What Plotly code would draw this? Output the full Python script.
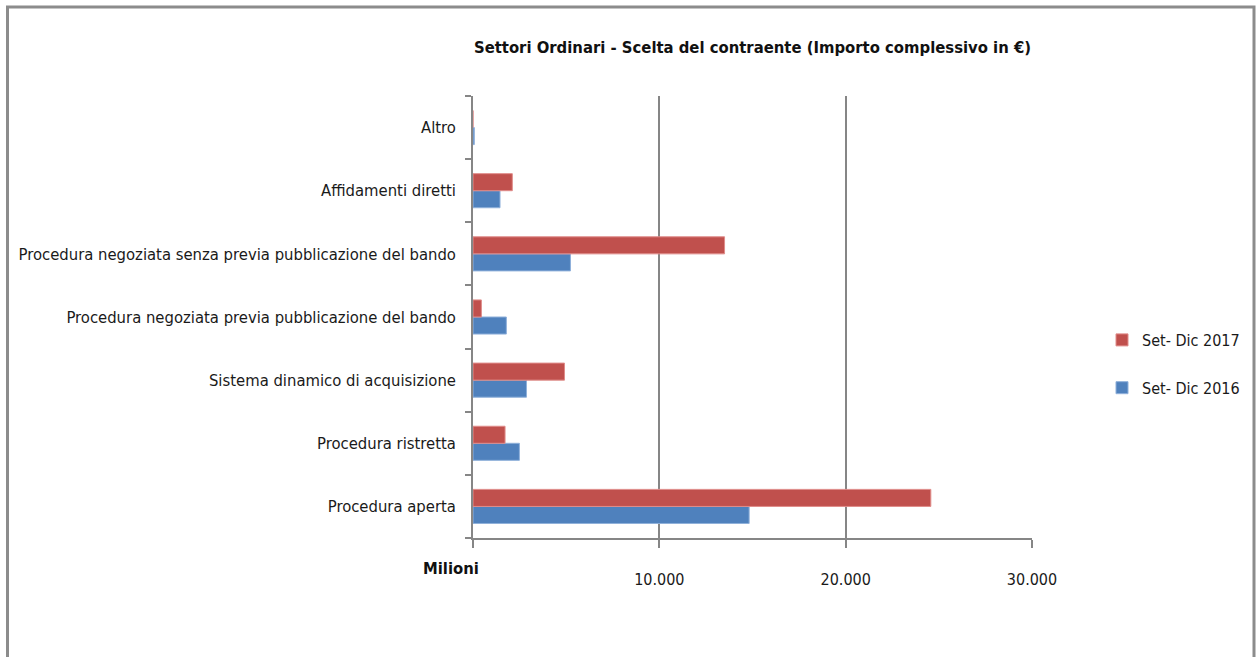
import plotly.graph_objects as go

categories = [
    "Procedura aperta",
    "Procedura ristretta",
    "Sistema dinamico di acquisizione",
    "Procedura negoziata previa pubblicazione del bando",
    "Procedura negoziata senza previa pubblicazione del bando",
    "Affidamenti diretti",
    "Altro",
]
# values in millions of euro
set_dic_2016 = [14820, 2490, 2870, 1790, 5230, 1450, 70]
set_dic_2017 = [24570, 1720, 4910, 450, 13500, 2110, 0]

x_tickvals = [0, 10000, 20000, 30000]
x_ticktext = ["", "10.000", "20.000", "30.000"]

FONT = "DejaVu Sans Condensed, sans-serif"
AXIS_GRAY = "#868686"

fig = go.Figure()
fig.add_trace(go.Bar(
    y=categories, x=set_dic_2016, orientation="h", name="Set- Dic 2016",
    marker=dict(color="#4F81BD", line=dict(color="#8FB0DA", width=1)),
    legendgroup="a", legendrank=2,
))
fig.add_trace(go.Bar(
    y=categories, x=set_dic_2017, orientation="h", name="Set- Dic 2017",
    marker=dict(color="#C0504D", line=dict(color="#E08C8A", width=1)),
    legendgroup="b", legendrank=1,
))

L, R, T, B = 473, 1032, 96, 538
W, H = R - L, B - T

def px_x(px):
    return (px - L) / W

def px_y(py):
    return (B - py) / H

fig.update_layout(
    width=1260, height=657,
    margin=dict(l=L, r=1260 - R, t=T, b=657 - B, autoexpand=False),
    paper_bgcolor="white", plot_bgcolor="white",
    barmode="group", bargap=0.46, bargroupgap=0.0,
    font=dict(family=FONT, size=16, color="#1a1a1a"),
    title=dict(
        text="<b>Settori Ordinari - Scelta del contraente (Importo complessivo in €)</b>",
        x=0.5, xref="paper", xanchor="center",
        y=1 - 47 / 657, yanchor="middle",
        font=dict(family=FONT, size=16.5, color="#111"),
    ),
    legend=dict(
        x=px_x(1102), y=px_y(364), xref="paper", yref="paper",
        xanchor="left", yanchor="middle",
        traceorder="grouped", tracegroupgap=24,
        font=dict(family=FONT, size=16, color="#1a1a1a"),
        bgcolor="rgba(0,0,0,0)", itemwidth=30,
    ),
    showlegend=True,
)

fig.update_xaxes(
    range=[0, 30000], tickvals=x_tickvals, ticktext=x_ticktext,
    showgrid=True, gridcolor=AXIS_GRAY, gridwidth=1.5,
    showline=True, linecolor=AXIS_GRAY, linewidth=1.5,
    ticks="outside", ticklen=8, tickcolor=AXIS_GRAY, tickwidth=1.5,
    ticklabelstandoff=18, zeroline=False, automargin=False,
    tickfont=dict(family=FONT, size=16, color="#1a1a1a"),
)
fig.update_yaxes(
    categoryorder="array", categoryarray=categories,
    showline=True, linecolor=AXIS_GRAY, linewidth=1.5,
    ticks="outside", ticklen=6, tickcolor=AXIS_GRAY, tickwidth=1.5,
    tickson="boundaries", ticklabelstandoff=12,
    showgrid=False, automargin=False,
    tickfont=dict(family=FONT, size=16.5, color="#1a1a1a"),
)

fig.add_annotation(
    text="<b>Milioni</b>", xref="paper", yref="paper",
    x=px_x(451), y=px_y(568), xanchor="center", yanchor="middle",
    showarrow=False, font=dict(family=FONT, size=16.5, color="#111"),
)

# outer chart frame
fig.add_shape(
    type="rect", xref="paper", yref="paper",
    x0=px_x(7.5), x1=px_x(1254), y0=px_y(665), y1=px_y(7),
    line=dict(color="#8c8c8c", width=3), fillcolor="rgba(0,0,0,0)", layer="below",
)

fig.write_html(
    "out.html",
    config={"displayModeBar": False},
    post_script="document.body.style.margin='0';document.body.style.overflow='hidden';",
)
